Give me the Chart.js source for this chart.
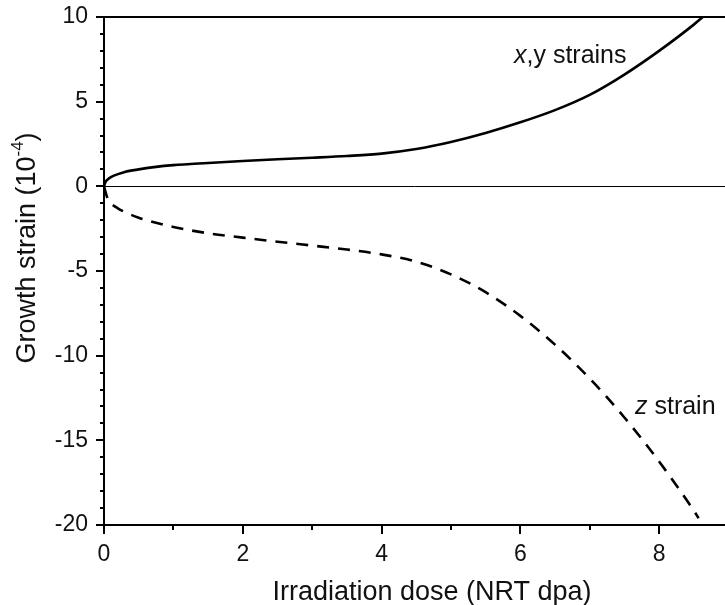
<!DOCTYPE html>
<html>
<head>
<meta charset="utf-8">
<script src="https://cdn.jsdelivr.net/npm/chart.js@4"></script>
<style>
  html, body { margin: 0; padding: 0; background: #fff; }
  canvas { display: block; }
</style>
</head>
<body>
<canvas id="strainChart" width="725" height="605"></canvas>
<script>
// x,y growth strain (10^-4) vs dose (NRT dpa)
const doseXY = [0, 0.02, 0.05, 0.1, 0.2, 0.3, 0.5, 0.75, 1, 1.5, 2, 2.5, 3, 3.5, 4, 4.5, 5, 5.5, 6, 6.5, 7, 7.5, 8, 8.5, 8.63];
const strainXY = [0, 0.25, 0.4, 0.55, 0.72, 0.85, 1.0, 1.15, 1.25, 1.38, 1.5, 1.6, 1.69, 1.79, 1.93, 2.2, 2.62, 3.15, 3.78, 4.5, 5.4, 6.6, 8.0, 9.55, 10.0];

// z growth strain
const doseZ = [0, 0.05, 0.1, 0.2, 0.3, 0.5, 0.75, 1, 1.5, 2, 2.5, 3, 3.5, 4, 4.5, 5, 5.5, 6, 6.5, 7, 7.5, 8, 8.5, 8.57];
const strainZ = [0, -0.7, -1.0, -1.3, -1.52, -1.85, -2.15, -2.4, -2.77, -3.03, -3.27, -3.5, -3.73, -4.02, -4.45, -5.2, -6.25, -7.65, -9.35, -11.35, -13.65, -16.25, -19.15, -19.6];

const xTickLabels = [0, 2, 4, 6, 8];
const yTickLabels = [-20, -15, -10, -5, 0, 5, 10];

const FONT = '"Liberation Sans", Arial, sans-serif';

const toPoints = (xs, ys) => xs.map((x, i) => ({ x: x, y: ys[i] }));

// frame, tick marks, zero line, titles and curve labels
const decor = {
  id: 'decor',
  beforeDatasetsDraw(chart) {
    const { ctx, chartArea: a, scales: { y } } = chart;
    const y0 = Math.round(y.getPixelForValue(0)) + 0.5;
    ctx.save();
    ctx.strokeStyle = '#000';
    ctx.lineWidth = 1;
    ctx.beginPath();
    ctx.moveTo(a.left, y0);
    ctx.lineTo(a.right, y0);
    ctx.stroke();
    ctx.restore();
  },
  afterDraw(chart) {
    const { ctx, chartArea: a, scales: { x, y } } = chart;
    ctx.save();
    ctx.strokeStyle = '#000';
    ctx.lineWidth = 2;
    ctx.beginPath();
    ctx.moveTo(a.left, a.top);
    ctx.lineTo(a.right, a.top);
    ctx.moveTo(a.left, a.top - 1);
    ctx.lineTo(a.left, a.bottom + 1);
    ctx.moveTo(a.left - 1, a.bottom);
    ctx.lineTo(a.right, a.bottom);

    for (let v = -20; v <= 10; v++) {
      const py = Math.round(y.getPixelForValue(v));
      const len = v % 5 === 0 ? 8 : 4;
      ctx.moveTo(a.left, py);
      ctx.lineTo(a.left - len, py);
    }
    for (let v = 0; v <= 8; v++) {
      const px = Math.round(x.getPixelForValue(v));
      const len = v % 2 === 0 ? 9 : 5;
      ctx.moveTo(px, a.bottom);
      ctx.lineTo(px, a.bottom + len);
    }
    ctx.stroke();

    ctx.fillStyle = '#111';
    ctx.textBaseline = 'alphabetic';

    // x axis title
    ctx.font = '27px ' + FONT;
    ctx.textAlign = 'center';
    ctx.fillText('Irradiation dose (NRT dpa)', 432, 600);

    // y axis title with superscript
    ctx.save();
    ctx.translate(35, 248);
    ctx.rotate(-Math.PI / 2);
    const main = 'Growth strain (10';
    const sup = '-4';
    const close = ')';
    ctx.font = '27px ' + FONT;
    const wMain = ctx.measureText(main).width;
    const wClose = ctx.measureText(close).width;
    ctx.font = '17px ' + FONT;
    const wSup = ctx.measureText(sup).width;
    let sx = -(wMain + wSup + wClose) / 2;
    ctx.textAlign = 'left';
    ctx.font = '27px ' + FONT;
    ctx.fillText(main, sx, 0);
    sx += wMain;
    ctx.font = '17px ' + FONT;
    ctx.fillText(sup, sx, -12);
    sx += wSup;
    ctx.font = '27px ' + FONT;
    ctx.fillText(close, sx, 0);
    ctx.restore();

    // curve labels
    ctx.textAlign = 'left';
    ctx.font = 'italic 25px ' + FONT;
    ctx.fillText('x', 514, 63);
    let w = ctx.measureText('x').width;
    ctx.font = '25px ' + FONT;
    ctx.fillText(',y strains', 514 + w, 63);

    ctx.font = 'italic 25px ' + FONT;
    ctx.fillText('z', 635, 414);
    w = ctx.measureText('z').width;
    ctx.font = '25px ' + FONT;
    ctx.fillText(' strain', 635 + w, 414);

    ctx.restore();
  }
};

const ctx = document.getElementById('strainChart').getContext('2d');
new Chart(ctx, {
  type: 'scatter',
  data: {
    datasets: [
      {
        label: 'x,y strains',
        data: toPoints(doseXY, strainXY),
        showLine: true,
        borderColor: '#000',
        borderWidth: 2.6,
        pointRadius: 0,
        cubicInterpolationMode: 'monotone'
      },
      {
        label: 'z strain',
        data: toPoints(doseZ, strainZ),
        showLine: true,
        borderColor: '#000',
        borderWidth: 2.6,
        borderDash: [12, 9],
        pointRadius: 0,
        cubicInterpolationMode: 'monotone'
      }
    ]
  },
  options: {
    responsive: false,
    animation: false,
    layout: { padding: { top: 17, left: 0, right: 0, bottom: 0 } },
    plugins: {
      legend: { display: false },
      tooltip: { enabled: false }
    },
    scales: {
      x: {
        type: 'linear',
        min: 0,
        max: 8.95,
        grid: { display: false, drawTicks: false, tickLength: 0 },
        border: { display: false },
        ticks: {
          stepSize: 2,
          includeBounds: false,
          padding: 16,
          color: '#111',
          font: { family: FONT, size: 23 },
          callback: v => xTickLabels.includes(v) ? String(v) : ''
        },
        afterFit: scale => {
          scale.height = 80;
          scale.paddingLeft = 0;
          scale.paddingRight = 0;
        }
      },
      y: {
        type: 'linear',
        min: -20,
        max: 10,
        grid: { display: false, drawTicks: false, tickLength: 0 },
        border: { display: false },
        ticks: {
          stepSize: 5,
          padding: 16,
          color: '#111',
          font: { family: FONT, size: 23 },
          callback: v => yTickLabels.includes(v) ? String(v) : ''
        },
        afterFit: scale => {
          scale.width = 104;
          scale.paddingTop = 0;
          scale.paddingBottom = 0;
        }
      }
    }
  },
  plugins: [decor]
});
</script>
</body>
</html>
